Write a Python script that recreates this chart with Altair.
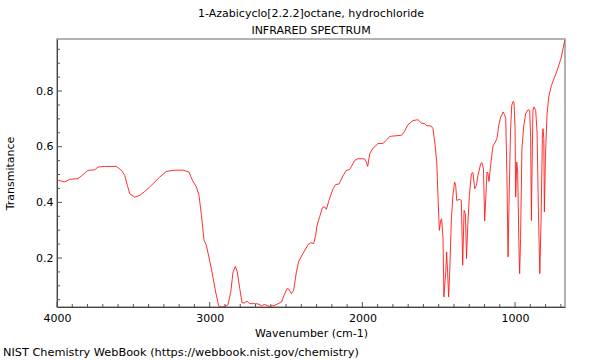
import altair as alt
import pandas as pd

TITLE = ["1-Azabicyclo[2.2.2]octane, hydrochloride", "INFRARED SPECTRUM"]
FOOTER = "NIST Chemistry WebBook (https://webbook.nist.gov/chemistry)"
X_TITLE = "Wavenumber (cm-1)"
Y_TITLE = "Transmitance"

wavenumber = [
    4000, 3950, 3917, 3862, 3840, 3797, 3753, 3731, 3688, 3611, 3578, 3557, 3539, 3524,
    3491, 3458, 3426, 3393, 3327, 3284, 3240, 3175, 3136, 3113, 3087, 3070, 3054, 3037,
    3022, 2989, 2961, 2941, 2920, 2902, 2880, 2862, 2847, 2832, 2819, 2803, 2788, 2771,
    2756, 2738, 2700, 2684, 2661, 2640, 2607, 2574, 2530, 2513, 2494, 2481, 2465, 2450,
    2432, 2417, 2389, 2356, 2338, 2319, 2306, 2297, 2280, 2262, 2247, 2236, 2219, 2192,
    2175, 2153, 2127, 2105, 2083, 2050, 2029, 1985, 1974, 1965, 1952, 1930, 1898, 1865,
    1843, 1821, 1767, 1744, 1727, 1701, 1668, 1636, 1614, 1592, 1581, 1548, 1538, 1526,
    1513, 1505, 1496, 1487, 1481, 1472, 1466, 1454, 1448, 1442, 1435, 1428, 1417, 1407,
    1396, 1389, 1382, 1363, 1352, 1343, 1334, 1325, 1318, 1310, 1299, 1286, 1276, 1264,
    1253, 1243, 1225, 1217, 1207, 1199, 1192, 1184, 1178, 1171, 1160, 1145, 1129, 1118,
    1107, 1094, 1078, 1068, 1061, 1053, 1046, 1039, 1030, 1022, 1013, 1007, 1000, 996,
    989, 983, 974, 970, 964, 955, 944, 931, 915, 904, 898, 893, 889, 883,
    876, 865, 856, 847, 838, 830, 821, 817, 812, 808, 801, 791, 780, 762,
    741, 719, 697, 675,
]
transmittance = [
    0.481, 0.473, 0.483, 0.485, 0.495, 0.515, 0.517, 0.527, 0.529, 0.529, 0.515, 0.497, 0.461, 0.431,
    0.419, 0.425, 0.439, 0.455, 0.491, 0.511, 0.515, 0.516, 0.509, 0.479, 0.455, 0.425, 0.353, 0.264,
    0.246, 0.162, 0.078, 0.028, 0.024, 0.026, 0.032, 0.078, 0.150, 0.170, 0.150, 0.090, 0.039, 0.039,
    0.045, 0.036, 0.036, 0.035, 0.029, 0.033, 0.026, 0.030, 0.042, 0.066, 0.090, 0.088, 0.072, 0.084,
    0.150, 0.188, 0.216, 0.248, 0.255, 0.252, 0.281, 0.317, 0.348, 0.381, 0.384, 0.375, 0.407, 0.449,
    0.464, 0.466, 0.495, 0.515, 0.518, 0.551, 0.557, 0.556, 0.545, 0.529, 0.575, 0.595, 0.611, 0.612,
    0.623, 0.637, 0.640, 0.641, 0.653, 0.679, 0.694, 0.697, 0.685, 0.683, 0.676, 0.674, 0.665, 0.617,
    0.545, 0.425, 0.299, 0.335, 0.341, 0.270, 0.060, 0.150, 0.222, 0.150, 0.060, 0.150, 0.341, 0.425,
    0.473, 0.461, 0.407, 0.411, 0.407, 0.174, 0.371, 0.359, 0.198, 0.317, 0.425, 0.503, 0.507, 0.449,
    0.461, 0.497, 0.539, 0.543, 0.521, 0.333, 0.413, 0.509, 0.505, 0.475, 0.533, 0.602, 0.617, 0.631,
    0.676, 0.707, 0.725, 0.715, 0.701, 0.485, 0.204, 0.413, 0.653, 0.748, 0.763, 0.760, 0.665, 0.419,
    0.545, 0.509, 0.222, 0.144, 0.270, 0.593, 0.671, 0.718, 0.733, 0.730, 0.629, 0.335, 0.509, 0.730,
    0.743, 0.730, 0.653, 0.366, 0.144, 0.330, 0.641, 0.665, 0.629, 0.366, 0.569, 0.712, 0.778, 0.820,
    0.850, 0.883, 0.922, 0.982,
]

x_major = [1000, 2000, 3000, 4000]
x_minor = [w for w in range(700, 4000, 100) if w % 1000 != 0]
y_major = [0.2, 0.4, 0.6, 0.8]
y_minor = [0.05, 0.1, 0.15, 0.25, 0.3, 0.35, 0.45, 0.5, 0.55, 0.65, 0.7, 0.75, 0.85, 0.9, 0.95]

FONT = "DejaVu Sans"
W, H = 508, 268

x_scale = alt.Scale(domain=[673, 4000], reverse=True, nice=False, zero=False)
y_scale = alt.Scale(domain=[0.024, 0.987], nice=False, zero=False)

spec = pd.DataFrame({"wn": wavenumber, "T": transmittance})

line = alt.Chart(spec).mark_line(color="#ff1a1a", strokeWidth=0.9, clip=True).encode(
    x=alt.X("wn:Q", scale=x_scale,
            axis=alt.Axis(values=x_major, format="d", title=X_TITLE, ticks=False, grid=False,
                          labelPadding=5, titlePadding=4, domainColor="#444",
                          labelFont=FONT, labelFontSize=11, titleFont=FONT, titleFontSize=11,
                          titleFontWeight="normal", labelColor="#000", titleColor="#000",
                          labelFlush=False, labelOverlap=False)),
    y=alt.Y("T:Q", scale=y_scale,
            axis=alt.Axis(values=y_major, format=".1f", title=Y_TITLE, ticks=False, grid=False,
                          labelPadding=4, domainColor="#444",
                          labelFont=FONT, labelFontSize=11, titleFont=FONT, titleFontSize=11,
                          titleFontWeight="normal", labelColor="#000", titleColor="#000",
                          titleX=-47, titleY=H / 2, titleAngle=270, titleAlign="center",
                          titleBaseline="middle")),
    order=alt.Order("wn:Q", sort="descending"),
)

xt_major = alt.Chart(pd.DataFrame({"wn": x_major})).mark_rule(color="#555", strokeWidth=1).encode(
    x=alt.X("wn:Q", scale=x_scale), y=alt.value(H), y2=alt.value(H - 5))
xt_minor = alt.Chart(pd.DataFrame({"wn": x_minor})).mark_rule(color="#555", strokeWidth=1).encode(
    x=alt.X("wn:Q", scale=x_scale), y=alt.value(H), y2=alt.value(H - 3))
yt_major = alt.Chart(pd.DataFrame({"T": y_major})).mark_rule(color="#555", strokeWidth=1).encode(
    y=alt.Y("T:Q", scale=y_scale), x=alt.value(0), x2=alt.value(5))
yt_minor = alt.Chart(pd.DataFrame({"T": y_minor})).mark_rule(color="#555", strokeWidth=1).encode(
    y=alt.Y("T:Q", scale=y_scale), x=alt.value(0), x2=alt.value(3))

footer = alt.Chart(pd.DataFrame({"t": [FOOTER]})).mark_text(
    align="left", baseline="middle", font=FONT, fontSize=11.3, color="#000"
).encode(text="t:N", x=alt.value(-54), y=alt.value(314))

chart = alt.layer(line, xt_minor, xt_major, yt_minor, yt_major, footer).properties(
    width=W, height=H,
    title=alt.TitleParams(text=TITLE, font=FONT, fontSize=11, fontWeight="normal",
                          anchor="middle", lineHeight=17, offset=3, color="#000"),
    autosize=alt.AutoSizeParams(type="none"),
    padding={"left": 57, "top": 39, "right": 35, "bottom": 53},
    background="white",
).configure_view(stroke="#999", strokeWidth=1.5)

chart.save("out.html", embed_options={"renderer": "svg", "actions": False})
